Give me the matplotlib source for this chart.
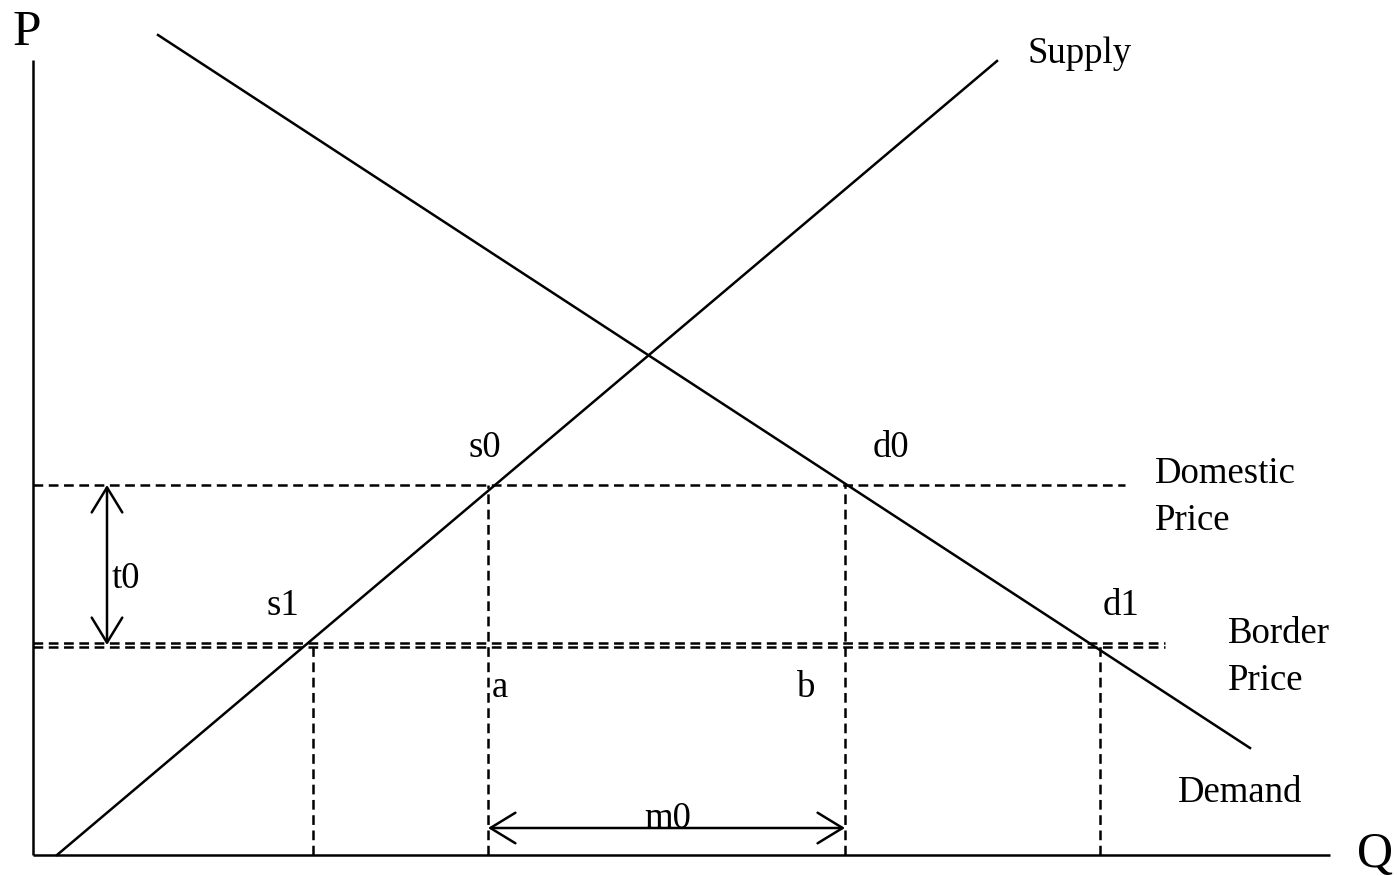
import matplotlib.pyplot as plt

plt.rcParams['font.family'] = ['Liberation Serif', 'DejaVu Serif']
plt.rcParams['lines.scale_dashes'] = False

# diagram coordinates: Q to the right, P up, origin at the axes corner
supply_q = [24, 964]
supply_p = [0, 794]
demand_q = [125, 1217]
demand_p = [820, 107]

p_domestic = 370
p_border = 210
q_s1 = 280
q_s0 = 455
q_d0 = 812
q_d1 = 1067

q_max = 1297
p_max = 795

fig = plt.figure(figsize=(13.98, 8.76), dpi=100)
ax = fig.add_axes([0, 0, 1, 1])
ax.set_xlim(-33, 1365)
ax.set_ylim(-21, 855)
ax.axis('off')

lw = 1.8
dash = (7, 4)

# axes
ax.plot([0, 0], [0, p_max], color='black', lw=lw, solid_capstyle='butt')
ax.plot([0, q_max], [0, 0], color='black', lw=lw, solid_capstyle='butt')
ax.text(-20, 810, 'P', fontsize=37, va='baseline')
ax.text(1324, -12, 'Q', fontsize=36, va='baseline')

# supply and demand
ax.plot(supply_q, supply_p, color='black', lw=lw)
ax.plot(demand_q, demand_p, color='black', lw=lw)
ax.text(995, 792, 'Supply', fontsize=26.5, va='baseline')
ax.text(1145, 53, 'Demand', fontsize=26.5, va='baseline')

# price lines
ax.plot([0, 1092], [p_domestic, p_domestic], color='black', lw=lw, dashes=dash)
ax.plot([0, 1132], [p_border + 2, p_border + 2], color='black', lw=lw, dashes=dash)
ax.plot([0, 1132], [p_border - 2, p_border - 2], color='black', lw=lw, dashes=dash)
ax.text(1122, 372, 'Domestic', fontsize=26.5, va='baseline')
ax.text(1122, 325, 'Price', fontsize=26.5, va='baseline')
ax.text(1195, 212, 'Border', fontsize=26.5, va='baseline')
ax.text(1195, 165, 'Price', fontsize=26.5, va='baseline')

# quantity drop lines
for q, p in [(q_s1, p_border), (q_s0, p_domestic), (q_d0, p_domestic), (q_d1, p_border)]:
    ax.plot([q, q], [0, p], color='black', lw=lw, dashes=dash)

# point labels
ax.text(435, 398, 's0', fontsize=26.5, va='baseline')
ax.text(840, 398, 'd0', fontsize=26.5, va='baseline')
ax.text(234, 240, 's1', fontsize=26.5, va='baseline')
ax.text(1070, 240, 'd1', fontsize=26.5, va='baseline')
ax.text(459, 158, 'a', fontsize=26.5, va='baseline')
ax.text(764, 158, 'b', fontsize=26.5, va='baseline')

# tariff and import arrows
arrow = dict(arrowstyle='<->,head_length=0.9,head_width=0.55', color='black',
             lw=lw, shrinkA=0, shrinkB=0, mutation_scale=20)
ax.annotate('', xy=(74, p_domestic), xytext=(74, p_border), arrowprops=arrow)
ax.text(79, 267, 't0', fontsize=26.5, va='baseline')
ax.annotate('', xy=(q_s0, 27), xytext=(q_d0, 27), arrowprops=arrow)
ax.text(635, 27, 'm0', fontsize=26.5, va='baseline', ha='center')

fig.savefig('out.png', dpi=100)
